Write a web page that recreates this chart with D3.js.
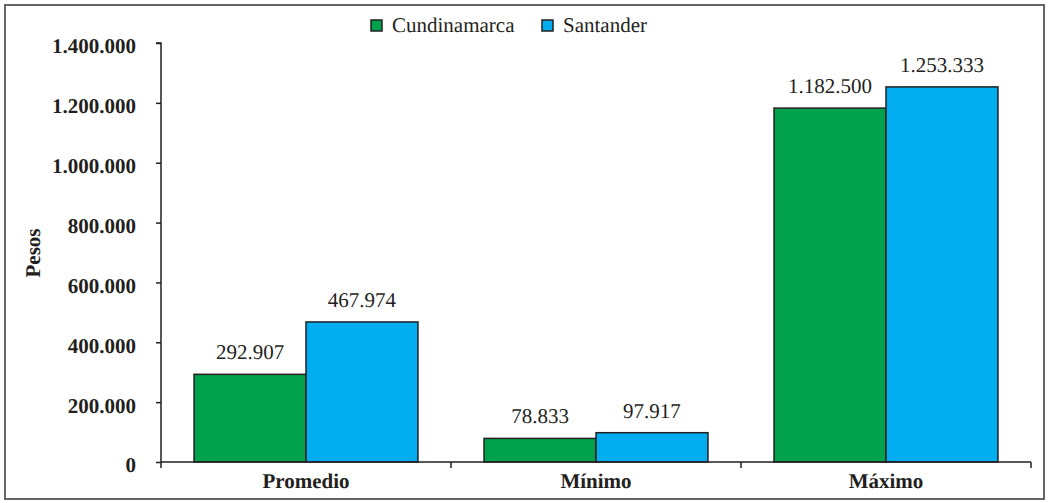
<!DOCTYPE html>
<html><head><meta charset="utf-8">
<script src="https://cdn.jsdelivr.net/npm/d3@7"></script>
<style>body{margin:0;background:#fff}svg{display:block}svg text{font-family:"Liberation Serif",serif;text-rendering:geometricPrecision}</style>
</head><body>
<svg id="c" width="1049" height="503"></svg>
<script>
const categories = ["Promedio", "Mínimo", "Máximo"];
const seriesNames = ["Cundinamarca", "Santander"];
const cundinamarca = [292907, 78833, 1182500];
const santander = [467974, 97917, 1253333];
const yTicks = [0, 200000, 400000, 600000, 800000, 1000000, 1200000, 1400000];
const colors = ["#00A14B", "#00AEEF"];

(function () {
const svg = d3.select("#c");
const font = '"Liberation Serif"';
const fs = "21px";
const ink = "#231F20";
const fmt = v => d3.format(",")(v).replace(/,/g, ".");

svg.append("rect").attr("x", 5).attr("y", 5).attr("width", 1039).attr("height", 494)
  .attr("fill", "#fff").attr("stroke", "#666").attr("stroke-width", 2);

const mLeft = 161, mRight = 1031, mTop = 43, mBottom = 462;
const x0 = d3.scaleBand().domain(categories).range([mLeft, mRight]).paddingInner(0).paddingOuter(0);
const x1 = d3.scaleBand().domain(seriesNames).range([0, x0.bandwidth()]).paddingOuter(0.295);
const y = d3.scaleLinear().domain([0, 1400000]).range([mBottom, mTop]);

const data = categories.map((c, i) => ({cat: c, vals: [cundinamarca[i], santander[i]]}));

const g = svg.append("g");
data.forEach(d => {
  d.vals.forEach((v, j) => {
    const bx = x0(d.cat) + x1(seriesNames[j]);
    g.append("rect").attr("x", bx).attr("y", y(v)).attr("width", x1.bandwidth())
      .attr("height", y(0) - y(v)).attr("fill", colors[j])
      .attr("stroke", ink).attr("stroke-width", 1.5);
    g.append("text").attr("x", bx + x1.bandwidth() / 2).attr("y", y(v) - 15)
      .attr("text-anchor", "middle").style("font-family", font).style("font-size", fs)
      .attr("fill", ink).text(fmt(v));
  });
});

// y axis
const yAxis = d3.axisLeft(y).tickValues(yTicks).tickFormat(fmt).tickSize(5).tickPadding(20);
const ya = svg.append("g").attr("transform", `translate(${mLeft},0)`).call(yAxis);
ya.attr("font-family", null).attr("font-size", null);
ya.select(".domain").attr("stroke", ink).attr("stroke-width", 1.5).attr("d", `M-5,${mTop}H0V${mBottom}`);
ya.selectAll(".tick line").attr("stroke", ink).attr("stroke-width", 1.5);
ya.selectAll("text").style("font-family", font).style("font-size", fs).style("font-weight", "bold")
  .attr("fill", ink).attr("dy", "0.47em");

// x axis
const xa = svg.append("g").attr("transform", `translate(0,${mBottom})`);
xa.append("line").attr("x1", mLeft).attr("x2", mRight).attr("stroke", ink).attr("stroke-width", 1.5);
const xb = [mLeft, ...categories.map(c => x0(c) + x0.bandwidth())];
xb.forEach(xx => xa.append("line").attr("x1", xx).attr("x2", xx).attr("y1", 0).attr("y2", 6)
  .attr("stroke", ink).attr("stroke-width", 1.5));
categories.forEach(c => xa.append("text").attr("x", x0(c) + x0.bandwidth() / 2).attr("y", 26)
  .attr("text-anchor", "middle").style("font-family", font).style("font-size", fs)
  .style("font-weight", "bold").attr("fill", ink).text(c));

// y title
svg.append("text").attr("transform", "translate(40,253) rotate(-90)").attr("text-anchor", "middle")
  .style("font-family", font).style("font-size", fs).style("font-weight", "bold").attr("fill", ink).text("Pesos");

// legend
const legX = [371, 542];
seriesNames.forEach((s, i) => {
  svg.append("rect").attr("x", legX[i]).attr("y", 20).attr("width", 11).attr("height", 11)
    .attr("fill", colors[i]).attr("stroke", ink).attr("stroke-width", 1.5);
  svg.append("text").attr("x", legX[i] + 21).attr("y", 32).style("font-family", font)
    .style("font-size", fs).attr("fill", ink).text(s);
});
})();
</script>
</body></html>
